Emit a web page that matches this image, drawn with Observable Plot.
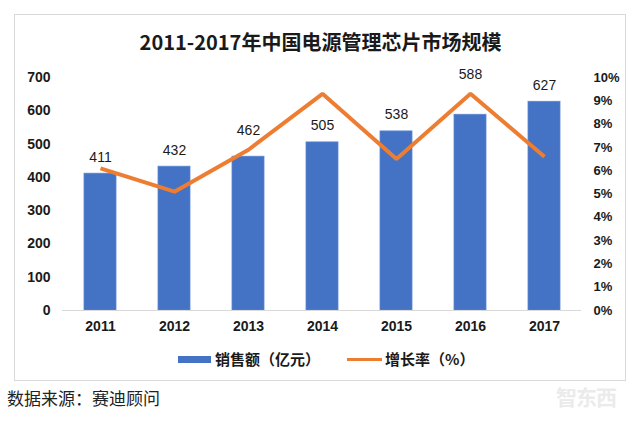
<!DOCTYPE html>
<html>
<head>
<meta charset="utf-8">
<script src="https://cdn.jsdelivr.net/npm/d3@7"></script>
<script src="https://cdn.jsdelivr.net/npm/@observablehq/plot@0.6"></script>
<style>
  html, body { margin: 0; padding: 0; background: #fff; }
  #page { position: relative; width: 640px; height: 429px; overflow: hidden; background: #fff; }
  #frame { position: absolute; left: 14px; top: 14px; width: 612px; height: 367px; border: 1px solid #d9d9d9; box-sizing: border-box; }
  #title { position: absolute; left: 14px; width: 613px; top: 28px; text-align: center;
           font-family: "Noto Sans CJK SC", sans-serif; font-weight: 700; font-size: 20px; line-height: 28px; color: #1a1a1a; }
  #chart { position: absolute; left: 0; top: 60px; }
  .lg { position: absolute; font-family: "Noto Sans CJK SC", sans-serif; font-weight: 700; font-size: 15px; line-height: 20px; color: #1a1a1a; top: 349px; }
  .sw { position: absolute; }
  #source { position: absolute; left: 7px; top: 386px; font-family: "Noto Sans CJK SC", serif; font-size: 17px; line-height: 24px; color: #222; }
  #wm { position: absolute; left: 556px; top: 382px; font-family: "Noto Sans CJK SC", sans-serif; font-weight: 700; font-size: 21px; line-height: 28px; color: #ebebeb; letter-spacing: -1px; }
</style>
</head>
<body>
<div id="page">
  <div id="frame"></div>
  <div id="title">2011-2017年中国电源管理芯片市场规模</div>
  <div id="chart"></div>
  <div class="sw" style="left:178px; top:356px; width:33px; height:7px; background:#4472C4;"></div>
  <div class="lg" style="left:215px;">销售额（亿元）</div>
  <div class="sw" style="left:347px; top:358px; width:35px; height:3px; background:#ED7D31;"></div>
  <div class="lg" style="left:385px;">增长率（%）</div>
  <div id="source">数据来源：赛迪顾问</div>
  <div id="wm">智东西</div>
</div>
<script>
const years = ["2011", "2012", "2013", "2014", "2015", "2016", "2017"];
const sales = [411, 432, 462, 505, 538, 588, 627];
const growth = [6.1, 5.1, 6.9, 9.3, 6.5, 9.3, 6.6];
const leftTicks = [0, 100, 200, 300, 400, 500, 600, 700];
const rightTicks = [0, 1, 2, 3, 4, 5, 6, 7, 8, 9, 10];
const rateToLeft = 70; // 10% on the right axis aligns with 700 on the left

const data = years.map((y, i) => ({ year: y, sales: sales[i], rate: growth[i] }));

// a value label that would sit on the growth line is lifted above the line
const gap = d => d.rate * rateToLeft - d.sales;
const clashes = d => gap(d) > 20 && gap(d) < 100;

const chart = Plot.plot({
  width: 640,
  height: 290,
  marginTop: 17,
  marginBottom: 40,
  marginLeft: 62,
  marginRight: 59,
  style: { fontFamily: "Liberation Sans, Arial, sans-serif", fontSize: "14px", color: "#1a1a1a", background: "transparent" },
  x: { type: "band", domain: years, paddingInner: 0.57, paddingOuter: 0.285, label: null },
  y: { domain: [0, 700], label: null },
  marks: [
    Plot.barY(data, { x: "year", y: "sales", fill: "#4472C4", stroke: "#5a86d0", strokeWidth: 0.8 }),
    Plot.ruleY([0], { stroke: "#d9d9d9", strokeWidth: 1.2 }),
    Plot.line(data, { x: "year", y: d => d.rate * rateToLeft, stroke: "#ED7D31", strokeWidth: 4, strokeLinejoin: "miter", strokeLinecap: "butt" }),
    Plot.text(data.filter(d => !clashes(d)), { x: "year", y: "sales", text: d => String(d.sales), lineAnchor: "bottom", dy: -12, fontSize: 14, fill: "#1a1a1a" }),
    Plot.text(data.filter(clashes), { x: "year", y: d => d.rate * rateToLeft, text: d => String(d.sales), lineAnchor: "bottom", dy: -15, fontSize: 14, fill: "#1a1a1a" }),
    Plot.axisY(leftTicks, { anchor: "left", tickSize: 0, tickPadding: 12, fontSize: 14, fontWeight: "bold", label: null }),
    Plot.axisY(rightTicks.map(r => r * rateToLeft), { anchor: "right", tickSize: 0, tickPadding: 12, fontSize: 13, fontWeight: "bold", label: null,
      tickFormat: d => rightTicks[Math.round(d / rateToLeft)] + "%" }),
    Plot.axisX({ tickSize: 0, tickPadding: 11, fontSize: 14, fontWeight: "bold", label: null })
  ]
});
document.getElementById("chart").appendChild(chart);
</script>
</body>
</html>
